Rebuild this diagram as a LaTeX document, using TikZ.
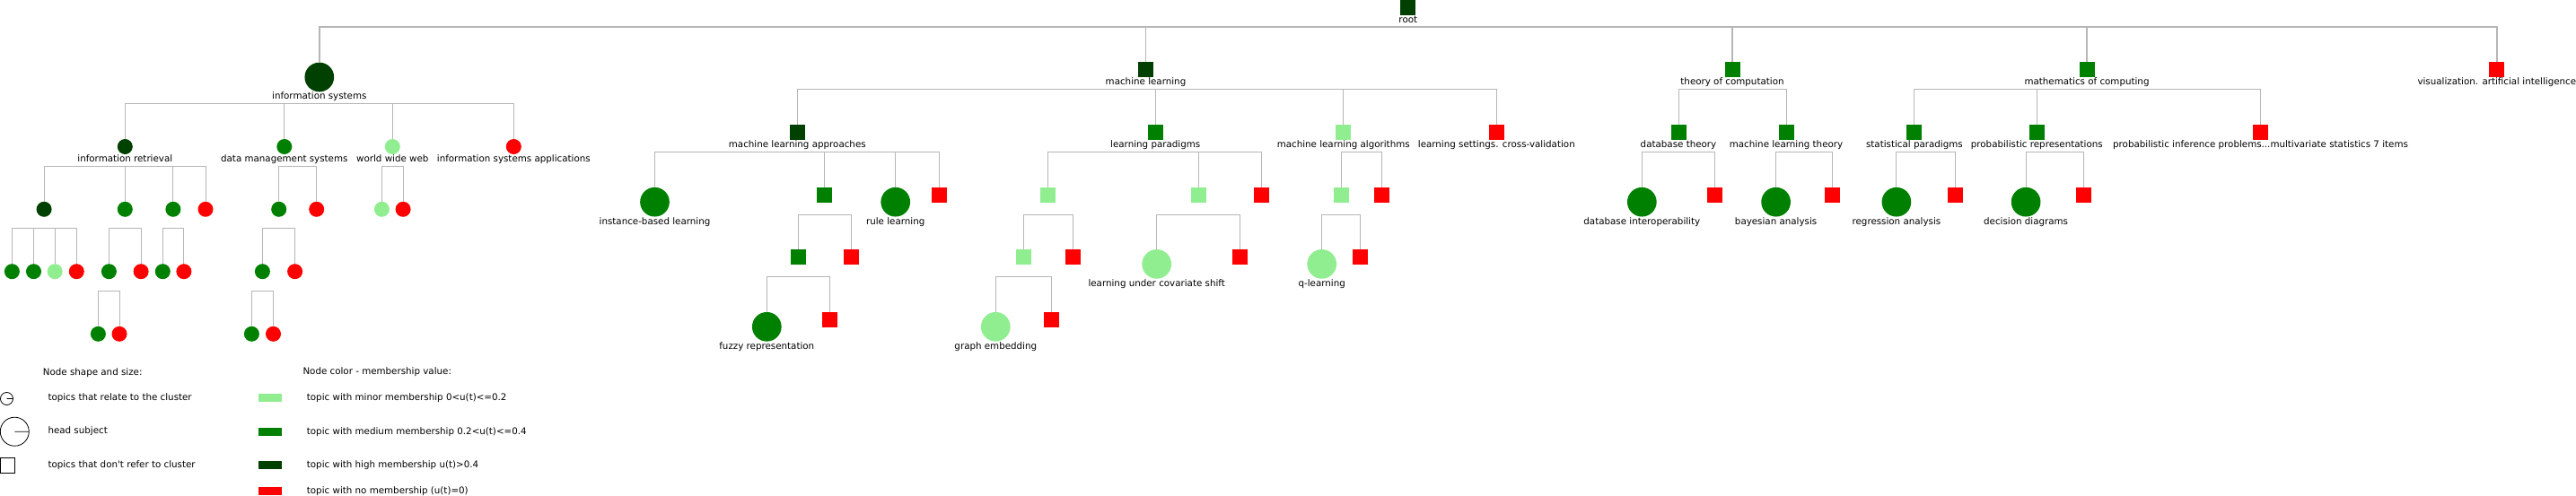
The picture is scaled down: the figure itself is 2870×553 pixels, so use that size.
\documentclass[tikz,border=0pt]{standalone}
\usepackage{amsmath,amsfonts,graphicx}
\usepackage{xcolor}
\usepackage{fontspec}
\setmainfont{DejaVu Sans}
\usepackage{tikz}

\definecolor{dkg}{RGB}{0,64,0}
\definecolor{mg}{RGB}{0,128,0}
\definecolor{lg}{RGB}{144,238,144}
\definecolor{rd}{RGB}{255,0,0}
\definecolor{edgegray}{RGB}{182,182,182}

\begin{document}
\begin{tikzpicture}[x=1pt,y=-1pt,
    sqnode/.style={rectangle,minimum size=17pt,inner sep=0pt,outer sep=0pt},
    topicnode/.style={circle,minimum size=17pt,inner sep=0pt,outer sep=0pt},
    headnode/.style={circle,minimum size=32.7pt,inner sep=0pt,outer sep=0pt},
    lbl/.style={inner sep=0.5pt,font=\fontsize{10.3}{12}\selectfont,text height=7.8pt,text depth=2.4pt},
    legtext/.style={inner sep=0pt,anchor=base west,font=\fontsize{10.3}{12}\selectfont},
    edge/.style={draw=edgegray,line width=0.9pt},
    rootedge/.style={draw=edgegray,line width=1.4pt}]
    \useasboundingbox (0,0) rectangle (2870,553);

    \node[sqnode,fill=dkg,label={[lbl]below:root}] (0) at (1568.8,8.4) {};

    \node[headnode,fill=dkg,label={[lbl]below:information systems}] (1) at (355.8,86) {};
    \node[topicnode,fill=dkg,label={[lbl]below:information retrieval}] (11) at (139.3,163.5) {};
    \node[topicnode,fill=dkg] (111) at (49.1,233.3) {};
    \node[topicnode,fill=mg] (1111) at (13.4,302.7) {};
    \node[topicnode,fill=mg] (1112) at (37.5,302.7) {};
    \node[topicnode,fill=lg] (1113) at (61.2,302.7) {};
    \node[topicnode,fill=rd] (1114) at (85.3,302.7) {};
    \node[topicnode,fill=mg] (112) at (139.3,233.3) {};
    \node[topicnode,fill=mg] (1121) at (121.4,302.7) {};
    \node[topicnode,fill=mg] (11211) at (109.4,372.3) {};
    \node[topicnode,fill=rd] (11212) at (133,372.3) {};
    \node[topicnode,fill=rd] (1122) at (157.1,302.7) {};
    \node[topicnode,fill=mg] (113) at (192.9,233.3) {};
    \node[topicnode,fill=mg] (1131) at (181.3,302.7) {};
    \node[topicnode,fill=rd] (1132) at (204.9,302.7) {};
    \node[topicnode,fill=rd] (114) at (229,233.3) {};
    \node[topicnode,fill=mg,label={[lbl]below:data management systems}] (12) at (316.8,163.5) {};
    \node[topicnode,fill=mg] (121) at (310.7,233.3) {};
    \node[topicnode,fill=mg] (1211) at (292.4,302.7) {};
    \node[topicnode,fill=mg] (12111) at (280.4,372.3) {};
    \node[topicnode,fill=rd] (12112) at (304.5,372.3) {};
    \node[topicnode,fill=rd] (1212) at (328.6,302.7) {};
    \node[topicnode,fill=rd] (122) at (352.7,233.3) {};
    \node[topicnode,fill=lg,label={[lbl]below:world wide web}] (13) at (437.3,163.5) {};
    \node[topicnode,fill=lg] (131) at (425.4,233.3) {};
    \node[topicnode,fill=rd] (132) at (449.1,233.3) {};
    \node[topicnode,fill=rd,label={[lbl]below:information systems applications}] (14) at (572.3,163.5) {};

    \node[sqnode,fill=dkg,label={[lbl]below:machine learning}] (2) at (1276.5,77.8) {};
    \node[sqnode,fill=dkg,label={[lbl]below:machine learning approaches}] (21) at (888.3,147.5) {};
    \node[headnode,fill=mg,label={[lbl]below:instance-based learning}] (211) at (729.5,225.2) {};
    \node[sqnode,fill=mg] (212) at (918.7,217.5) {};
    \node[sqnode,fill=mg] (2121) at (889.5,286.5) {};
    \node[headnode,fill=mg,label={[lbl]below:fuzzy representation}] (21211) at (854.3,364.3) {};
    \node[sqnode,fill=rd] (21212) at (924.5,356.4) {};
    \node[sqnode,fill=rd] (2122) at (948.5,286.5) {};
    \node[headnode,fill=mg,label={[lbl]below:rule learning}] (213) at (997.7,225.2) {};
    \node[sqnode,fill=rd] (214) at (1046.8,217.5) {};
    \node[sqnode,fill=mg,label={[lbl]below:learning paradigms}] (22) at (1287.2,147.5) {};
    \node[sqnode,fill=lg] (221) at (1167.8,217.5) {};
    \node[sqnode,fill=lg] (2211) at (1140.5,286.5) {};
    \node[headnode,fill=lg,label={[lbl]below:graph embedding}] (22111) at (1109.3,364.3) {};
    \node[sqnode,fill=rd] (22112) at (1171.5,356.4) {};
    \node[sqnode,fill=rd] (2212) at (1195.5,286.5) {};
    \node[sqnode,fill=lg] (222) at (1335.5,217.5) {};
    \node[headnode,fill=lg,label={[lbl]below:learning under covariate shift}] (2221) at (1288.7,294.4) {};
    \node[sqnode,fill=rd] (2222) at (1381.8,286.5) {};
    \node[sqnode,fill=rd] (223) at (1405.8,217.5) {};
    \node[sqnode,fill=lg,label={[lbl]below:machine learning algorithms}] (23) at (1496.7,147.5) {};
    \node[sqnode,fill=lg] (231) at (1494.3,217.5) {};
    \node[headnode,fill=lg,label={[lbl]below:q-learning}] (2311) at (1472.7,294.4) {};
    \node[sqnode,fill=rd] (2312) at (1515.5,286.5) {};
    \node[sqnode,fill=rd] (232) at (1539.5,217.5) {};
    \node[sqnode,fill=rd,label={[lbl]below:learning settings. cross-validation}] (24) at (1667.3,147.5) {};

    \node[sqnode,fill=mg,label={[lbl]below:theory of computation}] (3) at (1930,77.8) {};
    \node[sqnode,fill=mg,label={[lbl]below:database theory}] (31) at (1870,147.5) {};
    \node[headnode,fill=mg,label={[lbl]below:database interoperability}] (311) at (1829.3,225.2) {};
    \node[sqnode,fill=rd] (312) at (1910.7,217.5) {};
    \node[sqnode,fill=mg,label={[lbl]below:machine learning theory}] (32) at (1990,147.5) {};
    \node[headnode,fill=mg,label={[lbl]below:bayesian analysis}] (321) at (1978.6,225.2) {};
    \node[sqnode,fill=rd] (322) at (2041.4,217.5) {};

    \node[sqnode,fill=mg,label={[lbl]below:mathematics of computing}] (4) at (2325,77.8) {};
    \node[sqnode,fill=mg,label={[lbl]below:statistical paradigms}] (41) at (2132.9,147.5) {};
    \node[headnode,fill=mg,label={[lbl]below:regression analysis}] (411) at (2112.9,225.2) {};
    \node[sqnode,fill=rd] (412) at (2178.6,217.5) {};
    \node[sqnode,fill=mg,label={[lbl]below:probabilistic representations}] (42) at (2269.3,147.5) {};
    \node[headnode,fill=mg,label={[lbl]below:decision diagrams}] (421) at (2257.1,225.2) {};
    \node[sqnode,fill=rd] (422) at (2321.4,217.5) {};
    \node[sqnode,fill=rd,label={[lbl]below:probabilistic inference problems...multivariate statistics 7 items}] (43) at (2518.5,147.5) {};

    \node[sqnode,fill=rd,label={[lbl]below:visualization. artificial intelligence}] (5) at (2781.8,77.8) {};

    \draw[rootedge] (0.south) ++(0,13) -| (1.north);
    \draw[rootedge] (0.south) ++(0,13) -| (2.north);
    \draw[rootedge] (0.south) ++(0,13) -| (3.north);
    \draw[rootedge] (0.south) ++(0,13) -| (4.north);
    \draw[rootedge] (0.south) ++(0,13) -| (5.north);

    \draw[edge] (1.south) ++(0,13) -| (11.north);
    \draw[edge] (1.south) ++(0,13) -| (12.north);
    \draw[edge] (1.south) ++(0,13) -| (13.north);
    \draw[edge] (1.south) ++(0,13) -| (14.north);
    \draw[edge] (11.south) ++(0,13) -| (111.north);
    \draw[edge] (11.south) ++(0,13) -| (112.north);
    \draw[edge] (11.south) ++(0,13) -| (113.north);
    \draw[edge] (11.south) ++(0,13) -| (114.north);
    \draw[edge] (111.south) ++(0,13) -| (1111.north);
    \draw[edge] (111.south) ++(0,13) -| (1112.north);
    \draw[edge] (111.south) ++(0,13) -| (1113.north);
    \draw[edge] (111.south) ++(0,13) -| (1114.north);
    \draw[edge] (112.south) ++(0,13) -| (1121.north);
    \draw[edge] (112.south) ++(0,13) -| (1122.north);
    \draw[edge] (1121.south) ++(0,13) -| (11211.north);
    \draw[edge] (1121.south) ++(0,13) -| (11212.north);
    \draw[edge] (113.south) ++(0,13) -| (1131.north);
    \draw[edge] (113.south) ++(0,13) -| (1132.north);
    \draw[edge] (12.south) ++(0,13) -| (121.north);
    \draw[edge] (12.south) ++(0,13) -| (122.north);
    \draw[edge] (121.south) ++(0,13) -| (1211.north);
    \draw[edge] (121.south) ++(0,13) -| (1212.north);
    \draw[edge] (1211.south) ++(0,13) -| (12111.north);
    \draw[edge] (1211.south) ++(0,13) -| (12112.north);
    \draw[edge] (13.south) ++(0,13) -| (131.north);
    \draw[edge] (13.south) ++(0,13) -| (132.north);

    \draw[edge] (2.south) ++(0,13) -| (21.north);
    \draw[edge] (2.south) ++(0,13) -| (22.north);
    \draw[edge] (2.south) ++(0,13) -| (23.north);
    \draw[edge] (2.south) ++(0,13) -| (24.north);
    \draw[edge] (21.south) ++(0,13) -| (211.north);
    \draw[edge] (21.south) ++(0,13) -| (212.north);
    \draw[edge] (21.south) ++(0,13) -| (213.north);
    \draw[edge] (21.south) ++(0,13) -| (214.north);
    \draw[edge] (212.south) ++(0,13) -| (2121.north);
    \draw[edge] (212.south) ++(0,13) -| (2122.north);
    \draw[edge] (2121.south) ++(0,13) -| (21211.north);
    \draw[edge] (2121.south) ++(0,13) -| (21212.north);
    \draw[edge] (22.south) ++(0,13) -| (221.north);
    \draw[edge] (22.south) ++(0,13) -| (222.north);
    \draw[edge] (22.south) ++(0,13) -| (223.north);
    \draw[edge] (221.south) ++(0,13) -| (2211.north);
    \draw[edge] (221.south) ++(0,13) -| (2212.north);
    \draw[edge] (2211.south) ++(0,13) -| (22111.north);
    \draw[edge] (2211.south) ++(0,13) -| (22112.north);
    \draw[edge] (222.south) ++(0,13) -| (2221.north);
    \draw[edge] (222.south) ++(0,13) -| (2222.north);
    \draw[edge] (23.south) ++(0,13) -| (231.north);
    \draw[edge] (23.south) ++(0,13) -| (232.north);
    \draw[edge] (231.south) ++(0,13) -| (2311.north);
    \draw[edge] (231.south) ++(0,13) -| (2312.north);

    \draw[edge] (3.south) ++(0,13) -| (31.north);
    \draw[edge] (3.south) ++(0,13) -| (32.north);
    \draw[edge] (31.south) ++(0,13) -| (311.north);
    \draw[edge] (31.south) ++(0,13) -| (312.north);
    \draw[edge] (32.south) ++(0,13) -| (321.north);
    \draw[edge] (32.south) ++(0,13) -| (322.north);

    \draw[edge] (4.south) ++(0,13) -| (41.north);
    \draw[edge] (4.south) ++(0,13) -| (42.north);
    \draw[edge] (4.south) ++(0,13) -| (43.north);
    \draw[edge] (41.south) ++(0,13) -| (411.north);
    \draw[edge] (41.south) ++(0,13) -| (412.north);
    \draw[edge] (42.south) ++(0,13) -| (421.north);
    \draw[edge] (42.south) ++(0,13) -| (422.north);

    \node[legtext] (shapehd) at (47.7,418.2) {Node shape and size:};
    \draw[line width=0.8pt] (7.5,444.5) circle (7) (7.5,444.5) -- (14.5,444.5);
    \node[legtext] (relate) at (53.3,446.9) {topics that relate to the cluster};
    \draw[line width=0.8pt] (16.3,481.2) circle (16) (16.3,481.2) -- (32.3,481.2);
    \node[legtext] (headsub) at (53.3,483.8) {head subject};
    \draw[line width=0.8pt] (0.4,510.7) rectangle (16.5,527.3);
    \node[legtext] (norefer) at (53.3,521) {topics that don\textquotesingle t refer to cluster};

    \node[legtext] (colorhd) at (337.3,417.8) {Node color - membership value:};
    \fill[lg] (288.3,439.3) rectangle (314.3,448.3);
    \node[legtext] (minor) at (341.7,446.4) {topic with minor membership 0<u(t)<=0.2};
    \fill[mg] (288.3,476.7) rectangle (314.3,485.7);
    \node[legtext] (medium) at (341.7,484.4) {topic with medium membership 0.2<u(t)<=0.4};
    \fill[dkg] (288.3,514.3) rectangle (314.3,523.3);
    \node[legtext] (high) at (341.7,521.4) {topic with high membership u(t)>0.4};
    \fill[rd] (288.3,542.7) rectangle (314.3,551.7);
    \node[legtext] (nomem) at (341.7,550) {topic with no membership (u(t)=0)};
\end{tikzpicture}
\end{document}
